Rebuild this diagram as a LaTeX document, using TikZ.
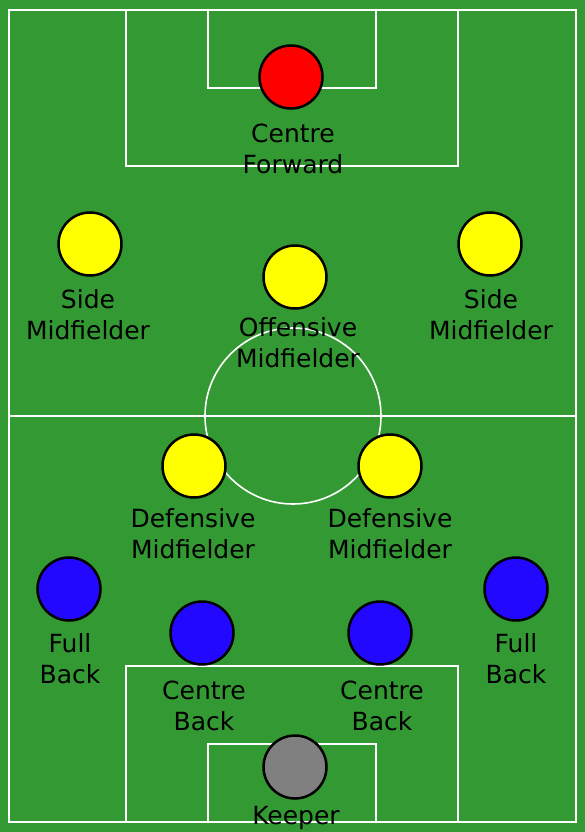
\documentclass[tikz,border=0pt]{standalone}
\usepackage{fontspec}
\setmainfont{DejaVu Sans}
\definecolor{pitch}{RGB}{51,153,51}
\definecolor{pblue}{RGB}{34,8,255}
\definecolor{pgray}{RGB}{128,128,128}
\definecolor{pyellow}{RGB}{255,255,0}
\begin{document}
\begin{tikzpicture}[x=1pt,y=-1pt,
  fieldline/.style={draw=white,line width=1.6pt},
  player/.style={circle,draw=black,line width=2.5pt,minimum size=63pt,inner sep=0pt},
  lbl/.style={align=center,font=\fontsize{25}{31}\selectfont,text=black,inner sep=0pt}]
\fill[pitch] (0,0) rectangle (585,832);
\useasboundingbox (0,0) rectangle (585,832);
% field markings
\draw[fieldline,line width=2pt] (9,10) rectangle (576,822);
\draw[fieldline] (9,416) -- (576,416);
\draw[fieldline] (293,416) circle (88);
\draw[fieldline] (126,10) rectangle (458,166);
\draw[fieldline] (208,10) rectangle (376,88);
\draw[fieldline] (126,822) rectangle (458,666);
\draw[fieldline] (208,822) rectangle (376,744);
% players
\node[player,fill=red] (cf) at (291,77) {};
\node[player,fill=pyellow] (sml) at (90,244) {};
\node[player,fill=pyellow] (om) at (295,277) {};
\node[player,fill=pyellow] (smr) at (490,244) {};
\node[player,fill=pyellow] (dml) at (194,466) {};
\node[player,fill=pyellow] (dmr) at (390,466) {};
\node[player,fill=pblue] (fbl) at (69,589) {};
\node[player,fill=pblue] (cbl) at (202,633) {};
\node[player,fill=pblue] (cbr) at (380,633) {};
\node[player,fill=pblue] (fbr) at (516,589) {};
\node[player,fill=pgray] (gk) at (295,767) {};
% labels
\node[lbl] (lcf) at (293,149) {Centre\\Forward};
\node[lbl] (lsml) at (88,315) {Side\\Midfielder};
\node[lbl] (lom) at (298,343) {Offensive\\Midfielder};
\node[lbl] (lsmr) at (491,315) {Side\\Midfielder};
\node[lbl] (ldml) at (193,534) {Defensive\\Midfielder};
\node[lbl] (ldmr) at (390,534) {Defensive\\Midfielder};
\node[lbl] (lfbl) at (70,659) {Full\\Back};
\node[lbl] (lfbr) at (516,659) {Full\\Back};
\node[lbl] (lcbl) at (204,706) {Centre\\Back};
\node[lbl] (lcbr) at (382,706) {Centre\\Back};
\node[lbl,anchor=base] (lgk) at (296,824) {Keeper};
\end{tikzpicture}
\end{document}
